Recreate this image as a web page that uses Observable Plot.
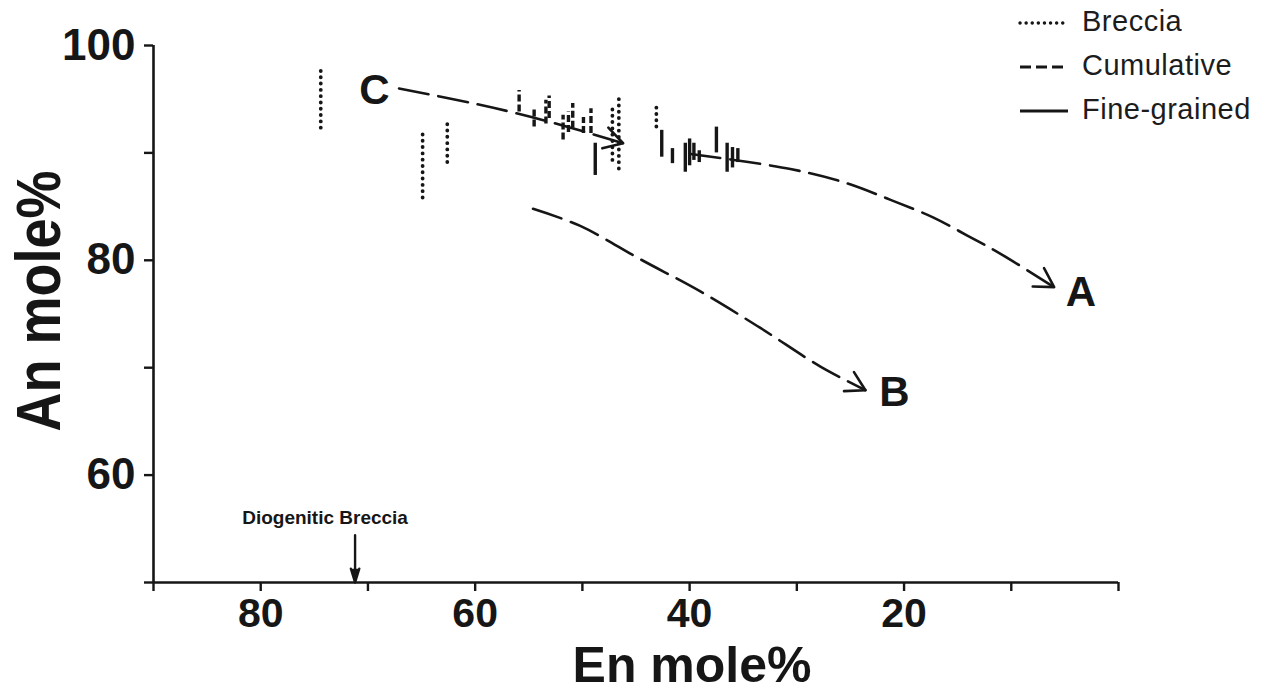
<!DOCTYPE html>
<html><head><meta charset="utf-8">
<script src="https://cdn.jsdelivr.net/npm/d3@7"></script>
<script src="https://cdn.jsdelivr.net/npm/@observablehq/plot@0.6"></script>
<style>
body{margin:0;background:#fff;}
#wrap{position:relative;width:1285px;height:695px;}
#legend{position:absolute;left:1016px;top:0;font-family:"Liberation Sans",Arial,sans-serif;font-size:29px;color:#1c1c1c;}
#legend .row{position:absolute;left:0;white-space:nowrap;height:34px;}
#legend svg{position:absolute;left:0;top:0;}
#legend span{position:absolute;left:66px;top:0;line-height:34px;letter-spacing:0.5px;}
</style>
</head><body>
<div id="wrap"><div id="chart"></div><div id="legend"></div></div>
<script>
// ---- data ----
const xTicks = [90, 80, 70, 60, 50, 40, 30, 20, 10, 0];
const xTickLabels = [80, 60, 40, 20];
const yTicks = [50, 60, 70, 80, 90, 100];
const yTickLabels = [60, 80, 100];

const brecciaEn = [74.4, 64.9, 62.6, 47.2, 46.6, 43.1];
const brecciaTop = [97.7, 91.9, 93.0, 94.4, 95.1, 94.4];
const brecciaBottom = [92.3, 85.8, 89.1, 89.3, 88.5, 92.4];

const cumulativeEn = [55.9, 54.5, 53.4, 53.1, 51.8, 51.3, 50.9, 49.9, 49.2];
const cumulativeTop = [95.8, 94.1, 94.9, 95.3, 93.5, 93.8, 94.6, 93.3, 94.1];
const cumulativeBottom = [93.8, 92.4, 92.7, 93.2, 91.2, 91.9, 92.3, 91.8, 91.8];

const fineEn = [48.8, 42.6, 41.6, 40.4, 40.0, 39.6, 39.1, 37.5, 36.5, 36.0, 35.5];
const fineTop = [90.9, 92.1, 90.4, 90.9, 91.3, 90.9, 90.2, 92.4, 90.9, 90.5, 90.4];
const fineBottom = [87.9, 89.6, 89.0, 88.2, 88.8, 89.3, 89.1, 90.0, 88.2, 88.6, 89.1];

const curveCEn = [67.1, 60.1, 56.2, 52.0, 46.2];
const curveCAn = [96.0, 94.6, 93.7, 92.6, 90.9];
const curveAEn = [39.9, 30.6, 25.4, 21.2, 17.3, 14.1, 11.0, 6.0];
const curveAAn = [89.9, 88.5, 87.2, 85.6, 84.0, 82.3, 80.6, 77.5];
const curveBEn = [54.6, 50.2, 44.6, 39.0, 33.4, 27.8, 23.6];
const curveBAn = [84.8, 83.2, 80.1, 77.1, 73.7, 70.1, 67.9];

const pathLabels = ["C", "A", "B"];
const pathLabelEn = [69.4, 3.5, 20.9];
const pathLabelAn = [95.8, 77.0, 67.7];

const markerText = "Diogenitic Breccia";
const markerEn = 71.2;
const markerTextAn = 56.0;
const markerArrowAn = [54.4, 50.0];

const legendLabels = ["Breccia", "Cumulative", "Fine-grained"];

// ---- build tables ----
const bars = (en, top, bot) => en.map((x, i) => ({x, y1: bot[i], y2: top[i]}));
const breccia = bars(brecciaEn, brecciaTop, brecciaBottom);
const cumulative = bars(cumulativeEn, cumulativeTop, cumulativeBottom);
const fine = bars(fineEn, fineTop, fineBottom);

const curves = [
  {id: "C", en: curveCEn, an: curveCAn},
  {id: "A", en: curveAEn, an: curveAAn},
  {id: "B", en: curveBEn, an: curveBAn}
];
const curvePts = curves.flatMap(c => c.en.map((x, i) => ({id: c.id, x, y: c.an[i]})));

// open V arrowheads at the end of each curve, along the last segment
// (x axis reversed: screen direction uses -dx)
const heads = curves.flatMap(c => {
  const n = c.en.length;
  const tx = c.en[n - 1], ty = c.an[n - 1];
  const sx = -(c.en[n - 1] - c.en[n - 2]), sy = c.an[n - 1] - c.an[n - 2];
  const ang = Math.atan2(sy, sx);
  const L = 2.0, w = Math.PI / 6;
  const a1 = ang + Math.PI - w, a2 = ang + Math.PI + w;
  return [
    {id: c.id, x: tx - L * Math.cos(a1), y: ty + L * Math.sin(a1)},
    {id: c.id, x: tx, y: ty},
    {id: c.id, x: tx - L * Math.cos(a2), y: ty + L * Math.sin(a2)}
  ];
});

const ink = "#161616";
const font = '"Liberation Sans", Arial, Helvetica, sans-serif';

const chart = Plot.plot({
  width: 1285,
  height: 695,
  marginLeft: 153,
  marginRight: 167,
  marginTop: 45,
  marginBottom: 113,
  style: {fontFamily: font, background: "#fff", color: ink},
  x: {domain: [90, 0]},
  y: {domain: [50, 100]},
  marks: [
    Plot.ruleY([50], {stroke: ink, strokeWidth: 2.6}),
    Plot.ruleX([90], {stroke: ink, strokeWidth: 2.6}),
    Plot.axisX({ticks: xTicks, tickSize: 9, tickPadding: 6, strokeWidth: 2.4,
      tickFormat: d => xTickLabels.includes(d) ? String(d) : "",
      fontSize: 41, fontWeight: "bold", label: null}),
    Plot.axisY({ticks: yTicks, tickSize: 9, tickPadding: 9, strokeWidth: 2.4,
      tickFormat: d => yTickLabels.includes(d) ? String(d) : "",
      fontSize: 44, fontWeight: "bold", label: null}),
    Plot.text(["En mole%"], {frameAnchor: "bottom", dx: 56, dy: 99, lineAnchor: "bottom",
      textAnchor: "middle", fontSize: 50, fontWeight: "bold", fill: ink}),
    Plot.text(["An mole%"], {frameAnchor: "left", dx: -113, dy: -13, rotate: -90,
      textAnchor: "middle", lineAnchor: "middle", fontSize: 54, fontWeight: "bold", fill: ink}),
    // curves
    Plot.line(curvePts, {x: "x", y: "y", z: "id", curve: "catmull-rom", stroke: ink,
      strokeWidth: 2.6, strokeDasharray: "30,10"}),
    Plot.line(heads, {x: "x", y: "y", z: "id", stroke: ink, strokeWidth: 2.6,
      strokeLinecap: "round", strokeLinejoin: "round"}),
    // bars
    Plot.ruleX(breccia, {x: "x", y1: "y1", y2: "y2", stroke: ink, strokeWidth: 3.8,
      strokeDasharray: "0.1,6.2", strokeLinecap: "round"}),
    Plot.ruleX(cumulative, {x: "x", y1: "y1", y2: "y2", stroke: ink, strokeWidth: 3.4,
      strokeDasharray: "7,3"}),
    Plot.ruleX(fine, {x: "x", y1: "y1", y2: "y2", stroke: ink, strokeWidth: 3.4}),
    // labels
    Plot.text(pathLabels, {x: (d, i) => pathLabelEn[i], y: (d, i) => pathLabelAn[i], text: d => d,
      fontSize: 42, fontWeight: "bold", fill: ink}),
    Plot.text([markerText], {x: () => markerEn + 2.8, y: () => markerTextAn, text: d => d,
      fontSize: 19, fontWeight: "bold", fill: ink}),
    Plot.arrow([markerEn], {x: d => d, y1: () => markerArrowAn[0], y2: () => markerArrowAn[1],
      stroke: ink, fill: ink, strokeWidth: 2.4, headLength: 9, headAngle: 34})
  ]
});
document.getElementById("chart").appendChild(chart);

// stretch the y-axis title across the text direction (the original uses a tall bold face)
d3.select(chart).selectAll("text")
  .filter(function () { return this.textContent === "An mole%"; })
  .each(function () {
    const t = this.getAttribute("transform") || "";
    this.setAttribute("transform", t + " scale(1,1.15)");
  });

// legend
const legend = document.getElementById("legend");
const dashes = ["0.1,6", "11,5", null];
const tops = [4, 48, 92];
legendLabels.forEach((lab, i) => {
  const row = document.createElement("div");
  row.className = "row";
  row.style.top = tops[i] + "px";
  const dash = dashes[i] ? `stroke-dasharray="${dashes[i]}"` : "";
  const cap = i === 0 ? 'stroke-linecap="round"' : "";
  const sw = i === 0 ? 3.4 : 3;
  row.innerHTML = `<svg width="56" height="34"><line x1="4" x2="52" y1="19" y2="19" stroke="${ink}" stroke-width="${sw}" ${dash} ${cap}/></svg><span>${lab}</span>`;
  legend.appendChild(row);
});
</script>
</body></html>
